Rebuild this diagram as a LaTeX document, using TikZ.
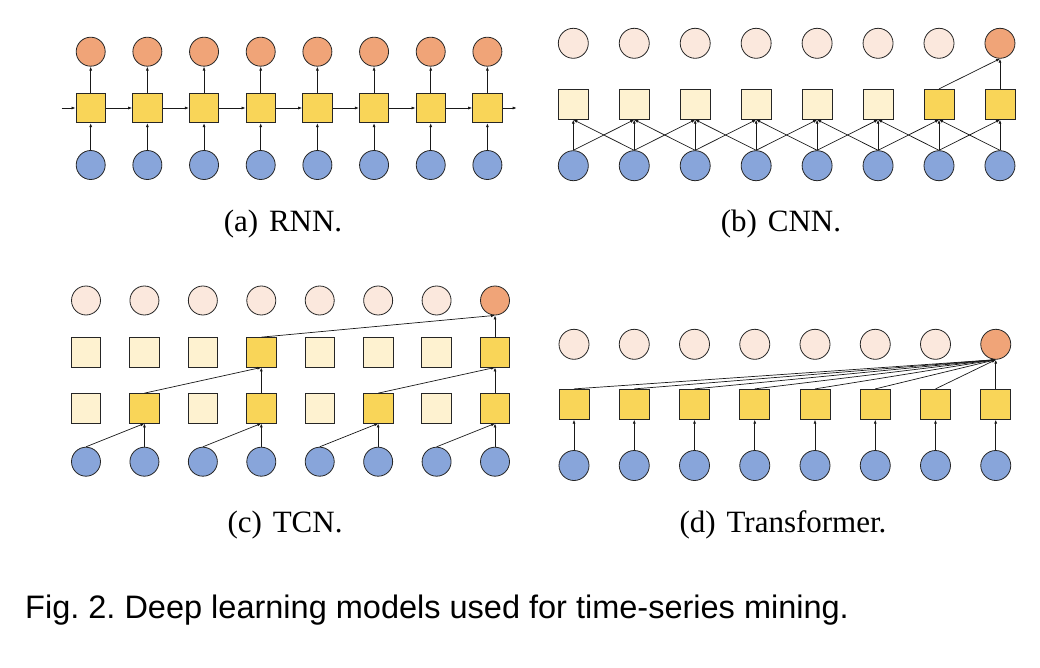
\documentclass[tikz,border=0pt]{standalone}
\usepackage{fontspec}
\setmainfont{Liberation Serif}
\newfontfamily\figfont{Liberation Sans}
\usetikzlibrary{arrows.meta}
\frenchspacing
\definecolor{outdark}{RGB}{240,164,120}
\definecolor{outpale}{RGB}{251,232,221}
\definecolor{incol}{RGB}{136,165,218}
\definecolor{hiddark}{RGB}{249,213,88}
\definecolor{hidpale}{RGB}{254,242,208}
\tikzset{
	incirc/.style={circle, draw=black!85, line width=0.8pt, fill=incol, minimum size=29pt, inner sep=0pt},
	outcirc/.style={circle, draw=black!85, line width=0.8pt, fill=outdark, minimum size=29pt, inner sep=0pt},
	palecirc/.style={outcirc, fill=outpale},
	hidbox/.style={rectangle, draw=black!85, line width=0.8pt, fill=hiddark, minimum size=29.5pt, inner sep=0pt},
	palebox/.style={hidbox, fill=hidpale},
	arr/.style={-{Latex[length=4pt,width=3pt]}, line width=0.7pt, black!90},
	subcap/.style={anchor=base, font=\fontsize{31}{36}\selectfont}
}
\begin{document}
\begin{tikzpicture}[x=1pt, y=-1pt]
	\useasboundingbox (0,0) rectangle (1040,668);
	% (a) RNN
	\foreach \i in {1,...,8} {
		\node[outcirc] (ry\i) at ({90.7+56.67*(\i-1)}, 51.7) {};
		\node[hidbox] (rh\i) at ({90.7+56.67*(\i-1)}, 108) {};
		\node[incirc] (rx\i) at ({90.7+56.67*(\i-1)}, 165) {};
		\draw[arr] (rx\i) -- (rh\i);
		\draw[arr] (rh\i) -- (ry\i);
	}
	\foreach \i [evaluate=\i as \j using int(\i+1)] in {1,...,7} {
		\draw[arr] (rh\i) -- (rh\j);
	}
	\coordinate (rin) at (61.7,108);
	\coordinate (rout) at (516.7,108);
	\draw[arr] (rin) -- (rh1);
	\draw[arr] (rh8) -- (rout);
	\node[subcap] (capa) at (283,231) {(a)\hspace{0.35em}RNN.};

	% (b) CNN
	\foreach \i/\yst/\hst in {1/palecirc/palebox, 2/palecirc/palebox, 3/palecirc/palebox, 4/palecirc/palebox,
			5/palecirc/palebox, 6/palecirc/palebox, 7/palecirc/hidbox, 8/outcirc/hidbox} {
		\node[\yst, minimum size=30pt] (cy\i) at ({573.3+60.95*(\i-1)}, 43.3) {};
		\node[\hst, minimum size=30pt] (ch\i) at ({573.3+60.95*(\i-1)}, 104.3) {};
		\node[incirc, minimum size=30pt] (cx\i) at ({573.3+60.95*(\i-1)}, 165.7) {};
		\draw[arr] (cx\i.north) -- (ch\i.south);
	}
	\foreach \i [evaluate=\i as \j using int(\i+1)] in {1,...,7} {
		\draw[arr] (cx\i.north) -- (ch\j.south);
		\draw[arr] (cx\j.north) -- (ch\i.south);
	}
	\draw[arr] (ch7.north) -- (cy8.south);
	\draw[arr] (ch8.north) -- (cy8.south);
	\node[subcap] (capb) at (781,231) {(b)\hspace{0.35em}CNN.};

	% (c) TCN
	\foreach \i/\yst/\ust/\lst in {1/palecirc/palebox/palebox, 2/palecirc/palebox/hidbox,
			3/palecirc/palebox/palebox, 4/palecirc/hidbox/hidbox, 5/palecirc/palebox/palebox,
			6/palecirc/palebox/hidbox, 7/palecirc/palebox/palebox, 8/outcirc/hidbox/hidbox} {
		\node[\yst] (ty\i) at ({86+58.43*(\i-1)}, 300.5) {};
		\node[\ust] (tu\i) at ({86+58.43*(\i-1)}, 352.3) {};
		\node[\lst] (tl\i) at ({86+58.43*(\i-1)}, 408.3) {};
		\node[incirc] (tx\i) at ({86+58.43*(\i-1)}, 461.7) {};
	}
	\foreach \i [evaluate=\i as \k using int(\i-1)] in {2,4,6,8} {
		\draw[arr] (tx\k.north) -- (tl\i.south);
		\draw[arr] (tx\i.north) -- (tl\i.south);
	}
	\foreach \i [evaluate=\i as \k using int(\i-2)] in {4,8} {
		\draw[arr] (tl\k.north) -- (tu\i.south);
		\draw[arr] (tl\i.north) -- (tu\i.south);
	}
	\draw[arr] (tu4.north) -- (ty8.south);
	\draw[arr] (tu8.north) -- (ty8.south);
	\node[subcap] (capc) at (285,532) {(c)\hspace{0.35em}TCN.};

	% (d) Transformer
	\foreach \i/\yst in {1/palecirc, 2/palecirc, 3/palecirc, 4/palecirc, 5/palecirc, 6/palecirc, 7/palecirc, 8/outcirc} {
		\node[\yst, minimum size=30pt] (fy\i) at ({574+60.25*(\i-1)}, 344.3) {};
		\node[hidbox, minimum size=30pt] (fh\i) at ({574+60.25*(\i-1)}, 404.3) {};
		\node[incirc, minimum size=30pt] (fx\i) at ({574+60.25*(\i-1)}, 465.5) {};
		\draw[arr] (fx\i.north) -- (fh\i.south);
	}
	\foreach \i in {1,...,8} {
		\draw[arr] (fh\i.north) -- (fy8.south);
	}
	\node[subcap] (capd) at (783,532) {(d)\hspace{0.35em}Transformer.};

	% figure caption
	\node[anchor=base west, inner sep=0pt, font=\figfont\fontsize{32.5}{38}\selectfont] (figcap) at (25,618)
		{Fig. 2. Deep learning models used for time-series mining.};
\end{tikzpicture}
\end{document}
